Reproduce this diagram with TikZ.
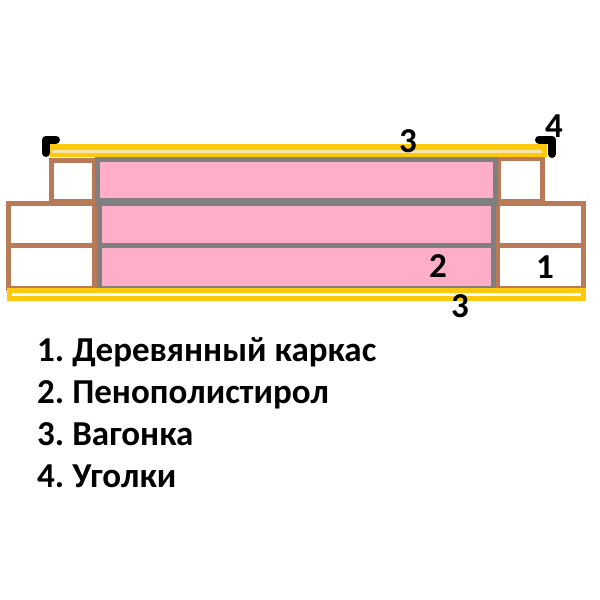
\documentclass[tikz,border=0pt]{standalone}
\usepackage{fontspec}
\setmainfont{Carlito}
\definecolor{wood}{HTML}{B97A57}
\definecolor{foam}{HTML}{FFAEC9}
\definecolor{seam}{HTML}{7F7F7F}
\definecolor{board}{HTML}{FFC90E}
\definecolor{boardlight}{HTML}{F7E6A8}
\tikzset{
  woodfill/.style={fill=wood},
  foamfill/.style={fill=foam},
  seamfill/.style={fill=seam},
  boardfill/.style={fill=board},
  voidfill/.style={fill=white},
  lightfill/.style={fill=boardlight},
  corner/.style={draw=black,line width=8pt,line cap=round,line join=round},
  mark label/.style={font=\bfseries\fontsize{35}{35}\selectfont,inner sep=0pt,anchor=base,text=black},
  legend line/.style={font=\bfseries\fontsize{35}{35}\selectfont,inner sep=0pt,anchor=base west,text=black}
}
\begin{document}
\begin{tikzpicture}[x=1pt,y=-1pt]
\useasboundingbox (0,0) rectangle (600,600);
\fill[white] (0,0) rectangle (600,600);
% left frame
\fill[woodfill] (6,201) rectangle (97,291);
\fill[voidfill] (11,206) rectangle (92,243);
\fill[voidfill] (11,248) rectangle (92,286);
\fill[woodfill] (49,158) rectangle (97,203);
\fill[voidfill] (54,163) rectangle (92,199);
% right frame
\fill[woodfill] (496,201) rectangle (586,290);
\fill[voidfill] (500,206) rectangle (581,243);
\fill[voidfill] (500,248) rectangle (581,286);
\fill[woodfill] (498,157) rectangle (545,203);
\fill[voidfill] (501,161) rectangle (540,199);
% foam and seams
\fill[seamfill] (95,157) rectangle (498,206);
\fill[seamfill] (97,206) rectangle (496,288);
\fill[foamfill] (100,162) rectangle (493,198);
\fill[foamfill] (102,206) rectangle (491,243);
\fill[foamfill] (102,248) rectangle (491,286);
% boards
\fill[boardfill] (49.5,144) rectangle (547,157);
\fill[lightfill] (52,149.5) rectangle (542,152.5);
\fill[boardfill] (7,288) rectangle (586,301);
\fill[voidfill] (12,293) rectangle (581,296);
% corners
\draw[corner] (46,153) -- (46,139.5) -- (56,139.5);
\draw[corner] (539,139.5) -- (552,139.5) -- (552,154);
% labels
\node[mark label] (lbThreeTop) at (408,152) {3};
\node[mark label] (lbFour) at (554,137) {4};
\node[mark label] (lbTwo) at (438,277) {2};
\node[mark label] (lbOne) at (545,278) {1};
\node[mark label] (lbThreeBottom) at (460,317) {3};
% legend
\node[legend line] (lgOne) at (37,361) {1.\hspace{-2.5pt} Деревянный каркас};
\node[legend line] (lgTwo) at (37,403) {2.\hspace{-2.5pt} Пенополистирол};
\node[legend line] (lgThree) at (37,445) {3.\hspace{-2.5pt} Вагонка};
\node[legend line] (lgFour) at (37,487) {4.\hspace{-2.5pt} Уголки};
\end{tikzpicture}
\end{document}
